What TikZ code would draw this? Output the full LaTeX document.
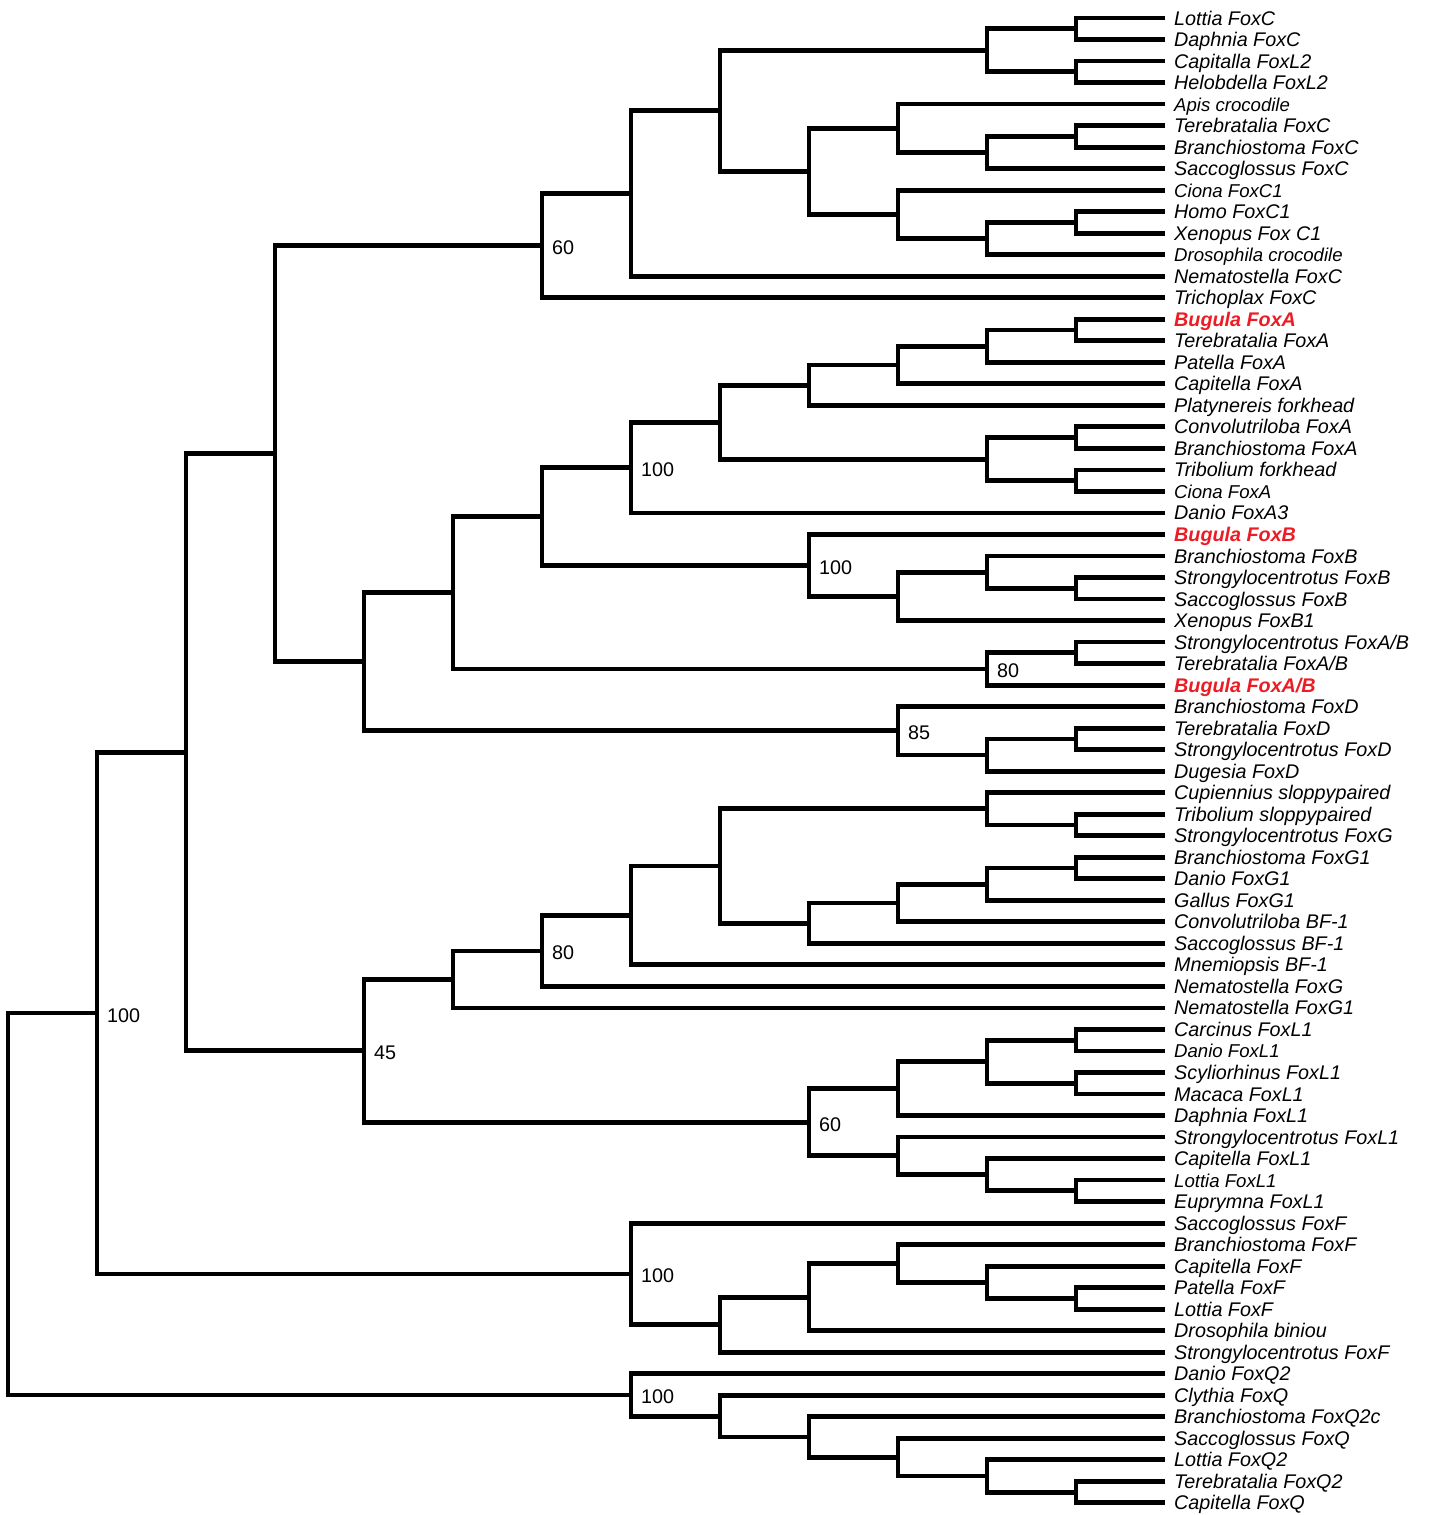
\documentclass[tikz,border=0pt]{standalone}
\usepackage{fontspec}
\setmainfont{Liberation Sans}
\usetikzlibrary{calc}
\definecolor{bugulaRed}{RGB}{236,28,36}

\begin{document}
\begin{tikzpicture}
		[x=1pt,y=1pt,
			branch/.style={line width=4.8pt,line join=miter},
			taxon/.style={anchor=base west,inner sep=0pt,xshift=9pt,yshift=-7pt,
				font=\fontsize{19.75}{22}\selectfont\itshape},
			taxonSmall/.style={taxon,font=\fontsize{18.6}{21}\selectfont\itshape},
			bugula/.style={taxon,text=bugulaRed,font=\fontsize{19.75}{22}\selectfont\bfseries\itshape},
			supportLabel/.style={anchor=base west,inner sep=0pt,xshift=10pt,yshift=-9pt,
				font=\fontsize{19.75}{22}\selectfont}]
	\useasboundingbox (0,0) rectangle (1432,-1515);
	\foreach \level in {0,...,13}
		{
			\coordinate (d\level) at ({8+89*\level},0);
		}
	\foreach \leafname/\leafstyle [count=\i] in {
			Lottia FoxC/taxon, Daphnia FoxC/taxon, Capitalla FoxL2/taxon, Helobdella FoxL2/taxon,
			Apis crocodile/taxonSmall, Terebratalia FoxC/taxon, Branchiostoma FoxC/taxon, Saccoglossus FoxC/taxon,
			Ciona FoxC1/taxonSmall, Homo FoxC1/taxon, Xenopus Fox C1/taxon, Drosophila crocodile/taxonSmall,
			Nematostella FoxC/taxon, Trichoplax FoxC/taxon,
			Bugula FoxA/bugula, Terebratalia FoxA/taxon, Patella FoxA/taxon, Capitella FoxA/taxon,
			Platynereis forkhead/taxon, Convolutriloba FoxA/taxon, Branchiostoma FoxA/taxon,
			Tribolium forkhead/taxon, Ciona FoxA/taxonSmall, Danio FoxA3/taxon,
			Bugula FoxB/bugula, Branchiostoma FoxB/taxon, Strongylocentrotus FoxB/taxon,
			Saccoglossus FoxB/taxon, Xenopus FoxB1/taxon,
			{Strongylocentrotus FoxA/B}/taxon, {Terebratalia FoxA/B}/taxon, {Bugula FoxA/B}/bugula,
			Branchiostoma FoxD/taxon, Terebratalia FoxD/taxon, Strongylocentrotus FoxD/taxon, Dugesia FoxD/taxon,
			Cupiennius sloppypaired/taxon, Tribolium sloppypaired/taxon, Strongylocentrotus FoxG/taxon,
			Branchiostoma FoxG1/taxon, Danio FoxG1/taxon, Gallus FoxG1/taxon, Convolutriloba BF-1/taxon,
			Saccoglossus BF-1/taxon, Mnemiopsis BF-1/taxon, Nematostella FoxG/taxon, Nematostella FoxG1/taxon,
			Carcinus FoxL1/taxon, Danio FoxL1/taxonSmall, Scyliorhinus FoxL1/taxon, Macaca FoxL1/taxon,
			Daphnia FoxL1/taxon, Strongylocentrotus FoxL1/taxon, Capitella FoxL1/taxon, Lottia FoxL1/taxonSmall,
			Euprymna FoxL1/taxon,
			Saccoglossus FoxF/taxon, Branchiostoma FoxF/taxon, Capitella FoxF/taxon, Patella FoxF/taxon,
			Lottia FoxF/taxon, Drosophila biniou/taxon, Strongylocentrotus FoxF/taxon,
			Danio FoxQ2/taxon, Clythia FoxQ/taxon, Branchiostoma FoxQ2c/taxon, Saccoglossus FoxQ/taxon,
			Lottia FoxQ2/taxon, Terebratalia FoxQ2/taxon, Capitella FoxQ/taxon}
		{
			\coordinate (l\i) at (1165,{-18-21.52*(\i-1)});
			\node[\leafstyle] (t\i) at (l\i) {\leafname};
		}
	\foreach \nodename/\level/\upnode/\downnode in {
			a1/d12/l1/l2, a2/d12/l3/l4, a3/d11/a1/a2, a4/d12/l6/l7, a5/d11/a4/l8, a6/d10/l5/a5,
			a7/d12/l10/l11, a8/d11/a7/l12, a9/d10/l9/a8, a10/d9/a6/a9, a11/d8/a3/a10,
			a12/d7/a11/l13, foxc/d6/a12/l14,
			b1/d12/l15/l16, b2/d11/b1/l17, b3/d10/b2/l18, b4/d9/b3/l19, b5/d12/l20/l21,
			b6/d12/l22/l23, b7/d11/b5/b6, b8/d8/b4/b7, foxa/d7/b8/l24,
			c1/d12/l27/l28, c2/d11/l26/c1, c3/d10/c2/l29, foxb/d9/l25/c3, ab/d6/foxa/foxb,
			e1/d12/l30/l31, foxab/d11/e1/l32, abab/d5/ab/foxab,
			f1/d12/l34/l35, f2/d11/f1/l36, foxd/d10/l33/f2, abd/d4/abab/foxd, cabd/d3/foxc/abd,
			g1/d12/l38/l39, g2/d11/l37/g1, g3/d12/l40/l41, g4/d11/g3/l42, g5/d10/g4/l43,
			g6/d9/g5/l44, g7/d8/g2/g6, g8/d7/g7/l45, foxg/d6/g8/l46, g9/d5/foxg/l47,
			h1/d12/l48/l49, h2/d12/l50/l51, h3/d11/h1/h2, h4/d10/h3/l52, h5/d12/l55/l56,
			h6/d11/l54/h5, h7/d10/l53/h6, foxl/d9/h4/h7, gl/d4/g9/foxl, big/d2/cabd/gl,
			k1/d12/l60/l61, k2/d11/l59/k1, k3/d10/l58/k2, k4/d9/k3/l62, k5/d8/k4/l63,
			foxf/d7/l57/k5, fgroup/d1/big/foxf,
			q1/d12/l69/l70, q2/d11/l68/q1, q3/d10/l67/q2, q4/d9/l66/q3, q5/d8/l65/q4,
			foxq/d7/l64/q5, root/d0/fgroup/foxq}
		{
			\coordinate (mid) at ($(\upnode)!.5!(\downnode)$);
			\coordinate (\nodename) at (mid -| \level);
			\draw[branch] (\upnode) -| (\nodename) |- (\downnode);
		}
	\foreach \nodename/\support in {
			foxc/60, foxa/100, foxb/100, foxab/80, foxd/85, foxg/80,
			gl/45, foxl/60, foxf/100, fgroup/100, foxq/100}
		{
			\node[supportLabel] (s\nodename) at (\nodename) {\support};
		}
\end{tikzpicture}
\end{document}
